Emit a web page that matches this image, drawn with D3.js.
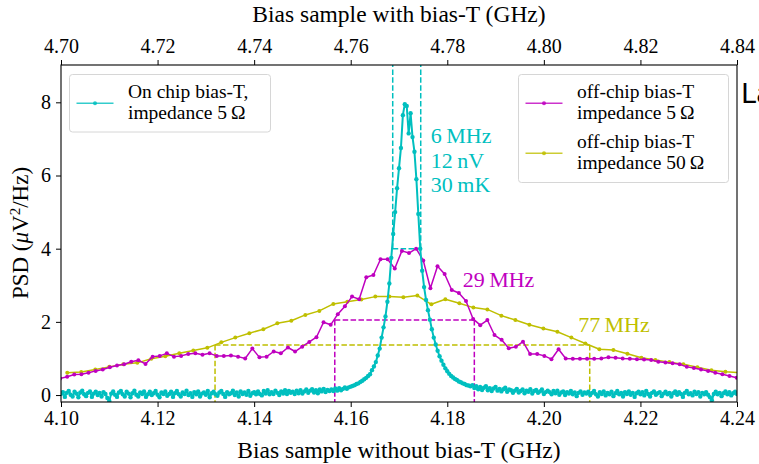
<!DOCTYPE html>
<html>
<head>
<meta charset="utf-8">
<script src="https://cdn.jsdelivr.net/npm/d3@7"></script>
<style>
  body { margin: 0; background: #fff; }
  svg { display: block; font-family: "Liberation Serif", serif; }
</style>
</head>
<body>
<svg id="chart" width="759" height="464"></svg>
<script>
// ---- data -------------------------------------------------------------
// On-chip bias-T, 5 Ohm: PSD (uV^2/Hz), sampled every 0.4 MHz from 4.100 GHz
const onChipStart = 4.100;
const onChipStep = 0.0004;
const onChipPsd = [
  0.03,0.08,-0.05,0.06,0.11,0.01,-0.04,0.09,0.04,-0.06,0.07,0.12,0.02,-0.03,0.06,0.10,-0.05,0.04,0.09,0.00,
  0.06,-0.04,0.08,0.03,-0.08,-0.16,0.04,0.10,0.01,-0.05,0.07,0.11,0.02,-0.04,0.09,0.04,-0.06,0.05,0.12,0.01,
  -0.04,0.07,0.03,0.10,-0.05,0.02,0.09,0.00,0.05,0.11,0.01,-0.06,0.07,0.03,0.10,-0.02,0.03,0.09,-0.05,0.05,
  0.11,0.02,-0.04,0.07,0.03,0.12,0.00,0.05,-0.05,0.08,0.02,0.10,-0.04,0.04,0.07,0.01,0.11,-0.06,0.05,0.09,
  0.02,-0.02,0.07,0.11,0.03,-0.05,0.08,0.02,0.05,0.12,0.00,0.07,-0.04,0.10,0.03,0.07,0.01,0.11,-0.02,0.05,
  0.08,0.02,0.10,0.03,-0.01,0.11,0.04,0.13,0.02,0.08,0.03,0.12,0.06,0.00,0.10,0.04,0.13,0.03,0.11,0.06,
  0.09,0.03,0.12,0.05,0.13,0.04,0.10,0.15,0.06,0.12,0.16,0.07,0.13,0.05,0.15,0.10,0.17,0.08,0.14,0.11,
  0.15,0.11,0.18,0.12,0.19,0.13,0.17,0.21,0.17,
  0.21,0.23,0.25,0.27,0.30,0.32,0.36,0.39,0.43,0.47,0.52,0.57,0.68,0.78,0.90,1.08,1.27,1.57,1.85,2.15,
  2.55,3.05,3.75,4.40,5.00,5.65,6.20,6.75,7.65,7.95,7.90,7.15,7.70,7.05,6.65,5.90,4.95,4.00,3.40,2.95,
  2.60,2.32,2.06,1.80,1.57,1.38,1.21,1.06,0.94,0.83,0.73,0.65,0.58,0.52,0.48,0.44,0.41,0.37,0.35,0.32,
  0.30,0.27,0.26,0.24,
  0.27,0.19,0.24,0.16,0.22,0.14,0.20,0.24,0.13,0.19,0.11,0.18,0.22,0.12,0.17,0.10,0.16,0.20,0.09,0.15,
  0.13,0.06,0.12,0.17,0.07,0.11,0.15,0.05,0.12,0.09,0.16,0.04,0.11,0.14,0.06,0.10,0.15,0.03,0.08,0.12,
  0.08,0.02,0.11,0.05,0.12,0.01,0.07,0.10,0.00,0.08,0.04,0.11,0.02,0.07,-0.03,0.06,0.10,0.01,0.07,0.04,
  0.09,0.00,0.06,0.11,0.02,-0.04,0.08,0.03,0.10,-0.01,0.06,0.02,0.09,-0.03,0.05,0.11,0.02,0.06,-0.04,0.08,
  0.03,0.10,0.01,0.06,-0.05,0.05,0.09,0.02,0.08,-0.01,0.11,0.03,-0.04,0.06,0.10,0.01,0.05,0.08,-0.03,0.04,
  0.09,0.02,0.06,-0.04,0.05,0.10,0.01,0.08,0.03,-0.05,0.06,0.11,0.02,0.05,-0.01,0.09,0.03,0.08,-0.04,0.06,
  0.02,0.08,0.01,-0.06,-0.14,0.03,0.09,0.02,0.06,-0.03,0.05,0.10,0.02,0.08,-0.01,0.05,0.09,0.03
];

// Off-chip bias-T, 5 Ohm: sampled every 1.475 MHz
const offChip5Start = 4.0998;
const offChip5Step = 0.001475;
const offChip5Psd = [
  0.45,0.50,0.56,0.57,0.61,0.66,0.70,0.76,0.81,0.84,
  0.91,0.95,0.85,1.05,1.07,1.14,1.05,1.07,1.12,1.14,
  1.10,1.14,1.07,1.07,1.08,1.05,1.00,1.27,1.03,1.05,
  1.19,1.14,1.30,1.19,1.32,1.45,1.58,1.99,1.92,2.21,
  2.43,2.69,2.62,3.22,3.28,3.71,3.71,3.46,3.94,3.88,
  4.00,3.68,2.92,3.52,3.31,2.87,2.79,2.57,2.08,1.91,
  2.05,1.64,1.51,1.28,1.32,1.46,1.12,1.12,1.07,0.98,
  1.25,1.00,0.99,0.99,0.99,0.99,1.00,1.03,1.02,1.00,
  0.99,0.98,0.97,0.96,0.91,0.89,0.87,0.84,0.77,0.74,
  0.70,0.66,0.61,0.57,0.52,0.47
];

// Off-chip bias-T, 50 Ohm: sampled every 2.9 MHz
const offChip50Start = 4.1013;
const offChip50Step = 0.0029;
const offChip50Psd = [
  0.61,0.63,0.70,0.77,0.84,0.88,0.99,1.06,1.14,1.22,
  1.29,1.44,1.57,1.69,1.80,1.96,2.03,2.19,2.30,2.49,
  2.55,2.61,2.69,2.69,2.67,2.72,2.48,2.62,2.51,2.39,
  2.34,2.17,2.05,1.92,1.82,1.73,1.57,1.41,1.25,1.23,
  1.13,1.02,0.96,0.90,0.84,0.76,0.68,0.64,0.61
];

// Linewidth markers: [low edge, high edge] in GHz and the half-maximum level
const fwhmOnChip = { lo: 4.1687, hi: 4.1745, level: 4.00 };
const fwhmOff5 = { lo: 4.1567, hi: 4.1856, level: 2.05 };
const fwhmOff50 = { lo: 4.1319, hi: 4.2095, level: 1.37 };

const bottomTicks = [4.10, 4.12, 4.14, 4.16, 4.18, 4.20, 4.22, 4.24];
const topTicks = [4.70, 4.72, 4.74, 4.76, 4.78, 4.80, 4.82, 4.84];
const yTicks = [0, 2, 4, 6, 8];

const colOn = "#00bfbf";
const colOff5 = "#bf00bf";
const colOff50 = "#bfbf00";

// ---- layout -----------------------------------------------------------
const svg = d3.select("#chart");
const L = 61, R = 737, T = 65, B = 402;
const serif = "'Liberation Serif', serif";

const x = d3.scaleLinear().domain([4.10, 4.24]).range([L, R]);
const xTop = d3.scaleLinear().domain([4.70, 4.84]).range([L, R]);
const y = d3.scaleLinear().domain([-0.19, 9.02]).range([B, T]);

const toPairs = (start, step, vals) => vals.map((v, i) => [start + i * step, v]);
const onChip = toPairs(onChipStart, onChipStep, onChipPsd);
const off5 = toPairs(offChip5Start, offChip5Step, offChip5Psd);
const off50 = toPairs(offChip50Start, offChip50Step, offChip50Psd);

svg.append("defs").append("clipPath").attr("id", "plotClip")
  .append("rect").attr("x", L).attr("y", T).attr("width", R - L).attr("height", B - T);

const plot = svg.append("g").attr("clip-path", "url(#plotClip)");

// dashed half-maximum guides
const dash = "5.5,2.4";
function guides(f, color, upward) {
  const g = plot.append("g").attr("stroke", color).attr("stroke-width", 1.5)
    .attr("stroke-dasharray", dash).attr("fill", "none");
  g.append("line").attr("x1", x(f.lo)).attr("x2", x(f.hi))
    .attr("y1", y(f.level)).attr("y2", y(f.level));
  const yEnd = upward ? y.range()[1] : y.range()[0];
  [f.lo, f.hi].forEach(v => {
    g.append("line").attr("x1", x(v)).attr("x2", x(v))
      .attr("y1", y(f.level)).attr("y2", yEnd);
  });
}
guides(fwhmOff50, colOff50, false);
guides(fwhmOff5, colOff5, false);
guides(fwhmOnChip, colOn, true);

const line = d3.line().x(d => x(d[0])).y(d => y(d[1]));
function series(data, color, r, w) {
  const g = plot.append("g");
  g.append("path").datum(data).attr("d", line)
    .attr("fill", "none").attr("stroke", color).attr("stroke-width", w)
    .attr("stroke-linejoin", "round");
  g.selectAll("circle").data(data).join("circle")
    .attr("cx", d => x(d[0])).attr("cy", d => y(d[1])).attr("r", r)
    .attr("fill", color);
}
series(off50, colOff50, 2, 1.5);
series(off5, colOff5, 2, 1.5);
series(onChip, colOn, 2.2, 2);

// ---- axes -------------------------------------------------------------
const fmt = d3.format(".2f");
function styleAxis(g) {
  g.select(".domain").remove();
  g.selectAll(".tick line").attr("stroke", "#000").attr("stroke-width", 1);
  g.selectAll(".tick text").attr("fill", "#000")
    .style("font-family", serif).style("font-size", "20px");
}
svg.append("g").attr("transform", `translate(0,${B})`)
  .call(d3.axisBottom(x).tickValues(bottomTicks).tickFormat(fmt).tickSize(5).tickPadding(4))
  .call(styleAxis);
svg.append("g").attr("transform", `translate(0,${T})`)
  .call(d3.axisTop(xTop).tickValues(topTicks).tickFormat(fmt).tickSize(5).tickPadding(7))
  .call(styleAxis);
svg.append("g").attr("transform", `translate(${L},0)`)
  .call(d3.axisLeft(y).tickValues(yTicks).tickFormat(d3.format("d")).tickSize(5).tickPadding(5))
  .call(styleAxis);

svg.append("rect").attr("x", L).attr("y", T).attr("width", R - L).attr("height", B - T)
  .attr("fill", "none").attr("stroke", "#000").attr("stroke-width", 1.1);

// axis titles
svg.append("text").attr("x", (L + R) / 2).attr("y", 458).attr("text-anchor", "middle")
  .style("font-size", "23.5px").text("Bias sample without bias-T (GHz)");
svg.append("text").attr("x", (L + R) / 2).attr("y", 22).attr("text-anchor", "middle")
  .style("font-size", "23.5px").text("Bias sample with bias-T (GHz)");
const yl = svg.append("text").attr("transform", "translate(28,233) rotate(-90)")
  .attr("text-anchor", "middle").style("font-size", "23px");
yl.append("tspan").text("PSD (");
yl.append("tspan").style("font-style", "italic").text("μ");
yl.append("tspan").text("V");
yl.append("tspan").attr("dy", -8).style("font-size", "15px").text("2");
yl.append("tspan").attr("dy", 8).text("/Hz)");

// ---- annotations ------------------------------------------------------
const ann = svg.append("g").style("font-size", "22px");
["6\u2009MHz", "12\u2009nV", "30\u2009mK"].forEach((t, i) => {
  ann.append("text").attr("x", x(4.1766)).attr("y", y(6.88) + i * 24.5)
    .attr("fill", colOn).text(t);
});
ann.append("text").attr("x", x(4.1832)).attr("y", y(2.94)).attr("fill", colOff5).text("29\u2009MHz");
ann.append("text").attr("x", x(4.2071)).attr("y", y(1.73)).attr("fill", colOff50).text("77\u2009MHz");

// ---- legends ----------------------------------------------------------
function legend(x0, y0, w, h, items) {
  const g = svg.append("g");
  g.append("rect").attr("x", x0).attr("y", y0).attr("width", w).attr("height", h)
    .attr("rx", 3).attr("fill", "#fff").attr("fill-opacity", 0.8)
    .attr("stroke", "#d6d6d6").attr("stroke-width", 1);
  items.forEach(it => {
    g.append("line").attr("x1", x0 + 7).attr("x2", x0 + 44)
      .attr("y1", it.y).attr("y2", it.y)
      .attr("stroke", it.color).attr("stroke-width", 1.5).attr("stroke-opacity", 0.8);
    g.append("circle").attr("cx", x0 + 25.5).attr("cy", it.y).attr("r", 2)
      .attr("fill", it.color).attr("fill-opacity", 0.85);
    it.lines.forEach((t, k) => {
      g.append("text").attr("x", x0 + 58.5).attr("y", it.y - 5 + k * 20.7)
        .style("font-size", "19.5px").text(t);
    });
  });
}
legend(69.5, 74.5, 201, 57.5, [
  { color: colOn, y: 103.3, lines: ["On chip bias-T,", "impedance 5\u2009Ω"] }
]);
legend(518.5, 74.5, 210, 108, [
  { color: colOff5, y: 103.3, lines: ["off-chip bias-T", "impedance 5\u2009Ω"] },
  { color: colOff50, y: 153.3, lines: ["off-chip bias-T", "impedance 50\u2009Ω"] }
]);

// stray label at the right edge
svg.append("text").attr("x", 741).attr("y", 103)
  .style("font-family", "'DejaVu Sans', sans-serif").style("font-size", "27px").text("La");
</script>
</body>
</html>
